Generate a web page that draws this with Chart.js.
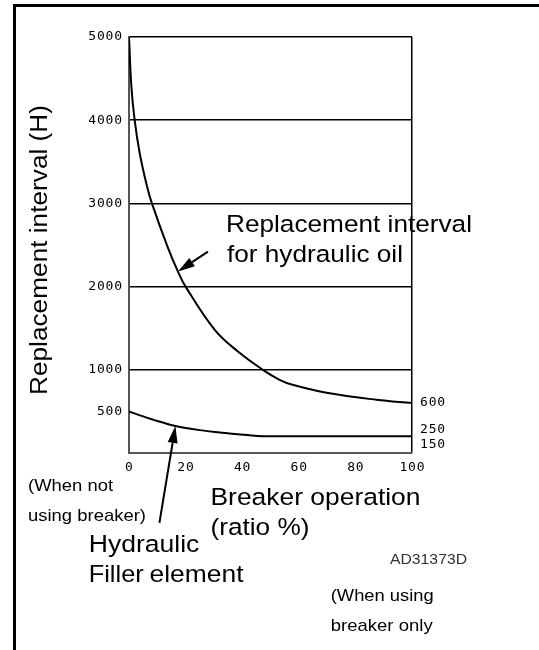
<!DOCTYPE html>
<html>
<head>
<meta charset="utf-8">
<script src="https://cdn.jsdelivr.net/npm/chart.js@4/dist/chart.umd.min.js"></script>
<style>
  html, body { margin: 0; padding: 0; background: #fff; }
  #wrap { width: 539px; height: 650px; position: relative; }
</style>
</head>
<body>
<div id="wrap"><canvas id="c" width="539" height="650"></canvas></div>
<script>
// Replacement interval (hours) against breaker operation ratio (%)
const ratioOil = [0, 0.85, 2, 3.8, 6.4, 8.1, 13.6, 17.3, 20, 30.3, 38.5, 47.3, 53.2, 57.8, 69.8, 87.4, 100];
const hoursOil = [5000, 4400, 4000, 3600, 3200, 3000, 2480, 2180, 2000, 1480, 1220, 1000, 880, 820, 725, 640, 600];
const ratioFilter = [0, 5, 10, 16.4, 25, 34, 42, 50, 100];
const hoursFilter = [500, 440, 385, 325, 275, 240, 215, 200, 200];
const xTickLabels = [0, 20, 40, 60, 80, 100];
const yTickLabels = [500, 1000, 2000, 3000, 4000, 5000];
const oilEndLabel = '600';
const filterEndLabels = ['250', '150'];

const toPoints = (xs, ys) => xs.map((x, i) => ({ x: x, y: ys[i] }));

const FONT = '"Liberation Sans", Arial, Helvetica, sans-serif';
const TICK_FONT = '13px "DejaVu Sans Mono", monospace';

// free text: [text, left x, baseline y, font size, drawn width, colour]
const notes = [
  ['Replacement interval', 226, 231.5, 24.5, 246, '#000'],
  ['for hydraulic oil', 227, 261.5, 24.5, 176, '#000'],
  ['(When not', 28, 490.5, 17, 85, '#000'],
  ['using breaker)', 28, 520.5, 17, 118, '#000'],
  ['Breaker operation', 210.5, 505, 24.5, 210, '#000'],
  ['(ratio %)', 210.5, 535, 24.5, 99, '#000'],
  ['Hydraulic', 88.7, 552, 24.5, 110.7, '#000'],
  ['Filler', 88.7, 581.5, 24.5, 55, '#000'],
  ['element', 149.5, 581.5, 24.5, 94, '#000'],
  ['AD31373D', 390, 564, 14.5, 77, '#333'],
  ['(When using', 330.7, 600.5, 17, 103, '#000'],
  ['breaker only', 330.7, 630.5, 17, 102, '#000']
];

function drawNote(ctx, text, x, y, size, width, color, rotate) {
  ctx.save();
  ctx.font = size + 'px ' + FONT;
  const w = ctx.measureText(text).width;
  const sx = width ? width / w : 1;
  ctx.translate(x, y);
  if (rotate) ctx.rotate(-Math.PI / 2);
  ctx.scale(sx, 1);
  ctx.fillStyle = color;
  ctx.textBaseline = 'alphabetic';
  ctx.textAlign = 'left';
  ctx.fillText(text, 0, 0);
  ctx.restore();
}

function drawArrow(ctx, x0, y0, x1, y1) {
  const ang = Math.atan2(y1 - y0, x1 - x0);
  const len = 17, half = 5;
  const bx = x1 - len * Math.cos(ang), by = y1 - len * Math.sin(ang);
  ctx.save();
  ctx.strokeStyle = '#000';
  ctx.fillStyle = '#000';
  ctx.lineWidth = 2;
  ctx.beginPath();
  ctx.moveTo(x0, y0);
  ctx.lineTo(bx, by);
  ctx.stroke();
  ctx.beginPath();
  ctx.moveTo(x1, y1);
  ctx.lineTo(bx + half * Math.sin(ang), by - half * Math.cos(ang));
  ctx.lineTo(bx - half * Math.sin(ang), by + half * Math.cos(ang));
  ctx.closePath();
  ctx.fill();
  ctx.restore();
}

function spacedText(ctx, text, x, y, align) {
  ctx.save();
  ctx.font = TICK_FONT;
  ctx.letterSpacing = '0.8px';
  ctx.fillStyle = '#000';
  ctx.textBaseline = 'middle';
  const w = ctx.measureText(text).width - 0.8;
  let left = x;
  if (align === 'right') left = x - w;
  else if (align === 'center') left = x - w / 2;
  ctx.textAlign = 'left';
  ctx.fillText(text, left, y);
  ctx.restore();
}

const sheet = {
  id: 'sheet',
  beforeDraw(chart) {
    const ctx = chart.ctx;
    ctx.save();
    ctx.fillStyle = '#fff';
    ctx.fillRect(0, 0, chart.width, chart.height);
    // page frame (top and left rule)
    ctx.fillStyle = '#000';
    ctx.fillRect(13, 4, chart.width - 13, 3);
    ctx.fillRect(13, 4, 3, chart.height - 4);
    ctx.restore();
  },
  afterDraw(chart) {
    const ctx = chart.ctx;
    const xs = chart.scales.x, ys = chart.scales.y;
    const area = chart.chartArea;

    // axis numbers
    yTickLabels.forEach(v => spacedText(ctx, String(v), area.left - 7, ys.getPixelForValue(v), 'right'));
    xTickLabels.forEach(v => spacedText(ctx, String(v), xs.getPixelForValue(v), area.bottom + 15, 'center'));

    // values at the right-hand end of each curve
    const oilEnd = ys.getPixelForValue(hoursOil[hoursOil.length - 1]);
    spacedText(ctx, oilEndLabel, area.right + 8, oilEnd, 'left');
    const filEnd = ys.getPixelForValue(hoursFilter[hoursFilter.length - 1]);
    spacedText(ctx, filterEndLabels[0], area.right + 8, filEnd - 7, 'left');
    spacedText(ctx, filterEndLabels[1], area.right + 8, filEnd + 8, 'left');

    // vertical axis title
    drawNote(ctx, 'Replacement interval (H)', 47, 395, 23, 290, '#000', true);

    notes.forEach(n => drawNote(ctx, n[0], n[1], n[2], n[3], n[4], n[5], false));

    // pointers to the two curves
    const t1x = xs.getPixelForValue(ratioOil[7]), t1y = ys.getPixelForValue(hoursOil[7]);
    drawArrow(ctx, t1x + 30, t1y - 20, t1x, t1y);
    const t2x = xs.getPixelForValue(ratioFilter[3]), t2y = ys.getPixelForValue(hoursFilter[3]);
    drawArrow(ctx, t2x - 16, t2y + 97, t2x, t2y);
  }
};

new Chart(document.getElementById('c'), {
  type: 'line',
  data: {
    datasets: [
      {
        label: 'Hydraulic oil',
        data: toPoints(ratioOil, hoursOil),
        borderColor: '#000',
        borderWidth: 2,
        pointRadius: 0,
        fill: false,
        tension: 0.4
      },
      {
        label: 'Hydraulic filter element',
        data: toPoints(ratioFilter, hoursFilter),
        borderColor: '#000',
        borderWidth: 2,
        pointRadius: 0,
        fill: false,
        cubicInterpolationMode: 'monotone'
      }
    ]
  },
  options: {
    responsive: false,
    animation: false,
    devicePixelRatio: 1,
    layout: { padding: { left: 129, top: 37, right: 127, bottom: 197 } },
    plugins: { legend: { display: false }, tooltip: { enabled: false } },
    scales: {
      x: {
        type: 'linear',
        min: 0,
        max: 100,
        ticks: { display: false, stepSize: 20 },
        grid: {
          drawTicks: false,
          lineWidth: 1.5,
          color: c => (c.tick && c.tick.value === 100 ? '#000' : 'rgba(0,0,0,0)')
        },
        border: { display: true, color: '#555', width: 2 }
      },
      y: {
        type: 'linear',
        min: 0,
        max: 5000,
        ticks: { display: false, stepSize: 1000 },
        grid: {
          drawTicks: false,
          lineWidth: 1.5,
          color: c => (c.tick && c.tick.value > 0 ? '#000' : 'rgba(0,0,0,0)')
        },
        border: { display: true, color: '#555', width: 2 }
      }
    }
  },
  plugins: [sheet]
});
</script>
</body>
</html>
